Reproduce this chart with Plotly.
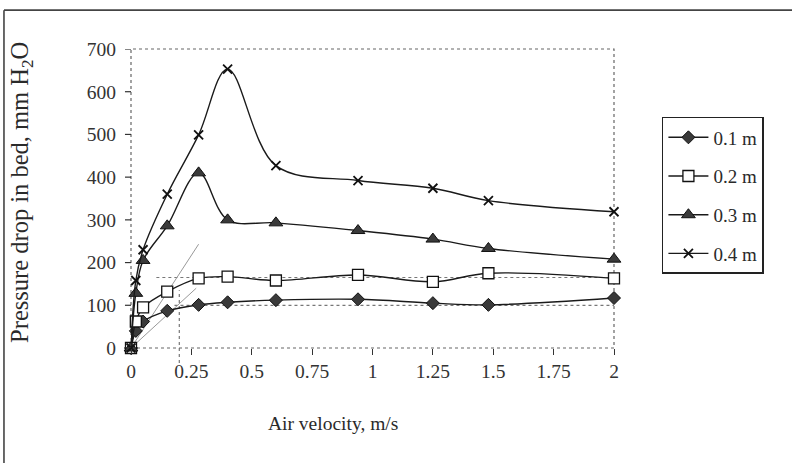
import plotly.graph_objects as go

# ---- data ----
air_velocity = [0, 0.02, 0.05, 0.15, 0.28, 0.40, 0.60, 0.94, 1.25, 1.48, 2.00]
dp_01 = [0, 40, 62, 87, 101, 107, 112, 114, 105, 101, 117]
dp_02 = [0, 62, 95, 132, 163, 167, 158, 171, 155, 175, 163]
dp_03 = [0, 128, 205, 286, 410, 300, 293, 275, 255, 233, 208]
dp_04 = [0, 158, 230, 360, 499, 653, 427, 392, 374, 345, 319]
series_names = ["0.1 m", "0.2 m", "0.3 m", "0.4 m"]

x_ticks = [0, 0.25, 0.5, 0.75, 1, 1.25, 1.5, 1.75, 2]
x_tick_text = ["0", "0.25", "0.5", "0.75", "1", "1.25", "1.5", "1.75", "2"]
y_ticks = [0, 100, 200, 300, 400, 500, 600, 700]

x_title = "Air velocity, m/s"
y_title = "Pressure drop in bed, mm H<sub>2</sub>O"

# hand-drawn helper lines (data units)
plateau_02 = [0.105, 2.0, 165]      # x0, x1, y
plateau_01 = [0.18, 2.0, 100]
umf_vertical = [0.2, 135]           # x, y top
tangent_a = [0.0, 0.0, 0.28, 243]
tangent_b = [0.0, 0.0, 0.27, 140]

FONT = "Liberation Serif"
INK = "#2a2a2a"

styles = [
    dict(symbol="diamond", size=10, color="#3a3a3a", line=dict(color="#111", width=1)),
    dict(symbol="square", size=11, color="white", line=dict(color="#111", width=1.3)),
    dict(symbol="triangle-up", size=12, color="#3a3a3a", line=dict(color="#111", width=1)),
    dict(symbol="x-thin", size=9, color="#111", line=dict(color="#111", width=1.8)),
]

fig = go.Figure()
for name, ys, st in zip(series_names, [dp_01, dp_02, dp_03, dp_04], styles):
    fig.add_trace(go.Scatter(
        x=air_velocity, y=ys, name=name, mode="lines+markers",
        line=dict(color="#1a1a1a", width=1.4, shape="spline", smoothing=1.0),
        marker=st, cliponaxis=False, legendgroup=name,
    ))

dot = dict(color="#777", width=1.2, dash="dot")
thin = dict(color="#999", width=1)
frame = dict(color="#444", width=1.6)
tick_line = dict(color="#333", width=1.2)
shapes = [
    dict(type="line", xref="x", yref="y", x0=plateau_02[0], x1=plateau_02[1], y0=plateau_02[2], y1=plateau_02[2], line=dot, layer="below"),
    dict(type="line", xref="x", yref="y", x0=plateau_01[0], x1=plateau_01[1], y0=plateau_01[2], y1=plateau_01[2], line=dot, layer="below"),
    dict(type="line", xref="x", yref="paper", x0=umf_vertical[0], x1=umf_vertical[0], y0=-0.05, y1=umf_vertical[1] / 700, line=dot, layer="below"),
    dict(type="line", xref="x", yref="y", x0=tangent_a[0], y0=tangent_a[1], x1=tangent_a[2], y1=tangent_a[3], line=thin, layer="below"),
    dict(type="line", xref="x", yref="y", x0=tangent_b[0], y0=tangent_b[1], x1=tangent_b[2], y1=tangent_b[3], line=thin, layer="below"),
    # plot-area frame (dotted)
    dict(type="rect", xref="paper", yref="paper", x0=0, x1=1, y0=0, y1=1, line=dict(color="#666", width=1.2, dash="dot"), layer="below"),
    # outer chart frame: top and left edges only visible
    dict(type="line", xref="paper", yref="paper", x0=-0.263, x1=1.4, y0=1.13, y1=1.13, line=frame),
    dict(type="line", xref="paper", yref="paper", x0=-0.263, x1=-0.263, y0=1.13, y1=-0.45, line=frame),
]
# y-axis tick marks (outside, ~6 px), one per tick value
for v in y_ticks:
    shapes.append(dict(type="line", xref="paper", yref="y", x0=-0.0125, x1=0, y0=v, y1=v, line=tick_line))

annotations = [
    dict(text=x_title, xref="paper", yref="paper", x=0.418, y=-0.254,
         xanchor="center", yanchor="middle", showarrow=False,
         font=dict(family=FONT, size=19.5, color=INK)),
    dict(text=y_title, xref="paper", yref="paper", x=-0.2257, y=0.522,
         xanchor="center", yanchor="middle", showarrow=False, textangle=-90,
         font=dict(family=FONT, size=24.5, color=INK)),
]

fig.update_layout(
    width=792, height=463,
    margin=dict(l=131, r=178, t=49, b=115),
    paper_bgcolor="white", plot_bgcolor="white",
    font=dict(family=FONT, color=INK, size=18),
    shapes=shapes, annotations=annotations,
    showlegend=True,
    legend=dict(
        x=1.099, y=0.773, xanchor="left", yanchor="top",
        bgcolor="white", bordercolor="#222", borderwidth=1.6,
        font=dict(family=FONT, size=19, color=INK),
        tracegroupgap=11, itemwidth=40,
    ),
    xaxis=dict(
        range=[0, 2], tickvals=x_ticks, ticktext=x_tick_text,
        showgrid=False, zeroline=False, showline=False,
        ticks="outside", ticklen=6, tickcolor="#333", tickwidth=1.2,
        tickfont=dict(family=FONT, size=19.5, color="#333"),
    ),
    yaxis=dict(
        range=[0, 700], tickvals=y_ticks,
        showgrid=False, zeroline=False, showline=False,
        ticks="", ticklabelstandoff=14,
        tickfont=dict(family=FONT, size=19.5, color="#333"),
    ),
)

fig.write_html("out.html")
